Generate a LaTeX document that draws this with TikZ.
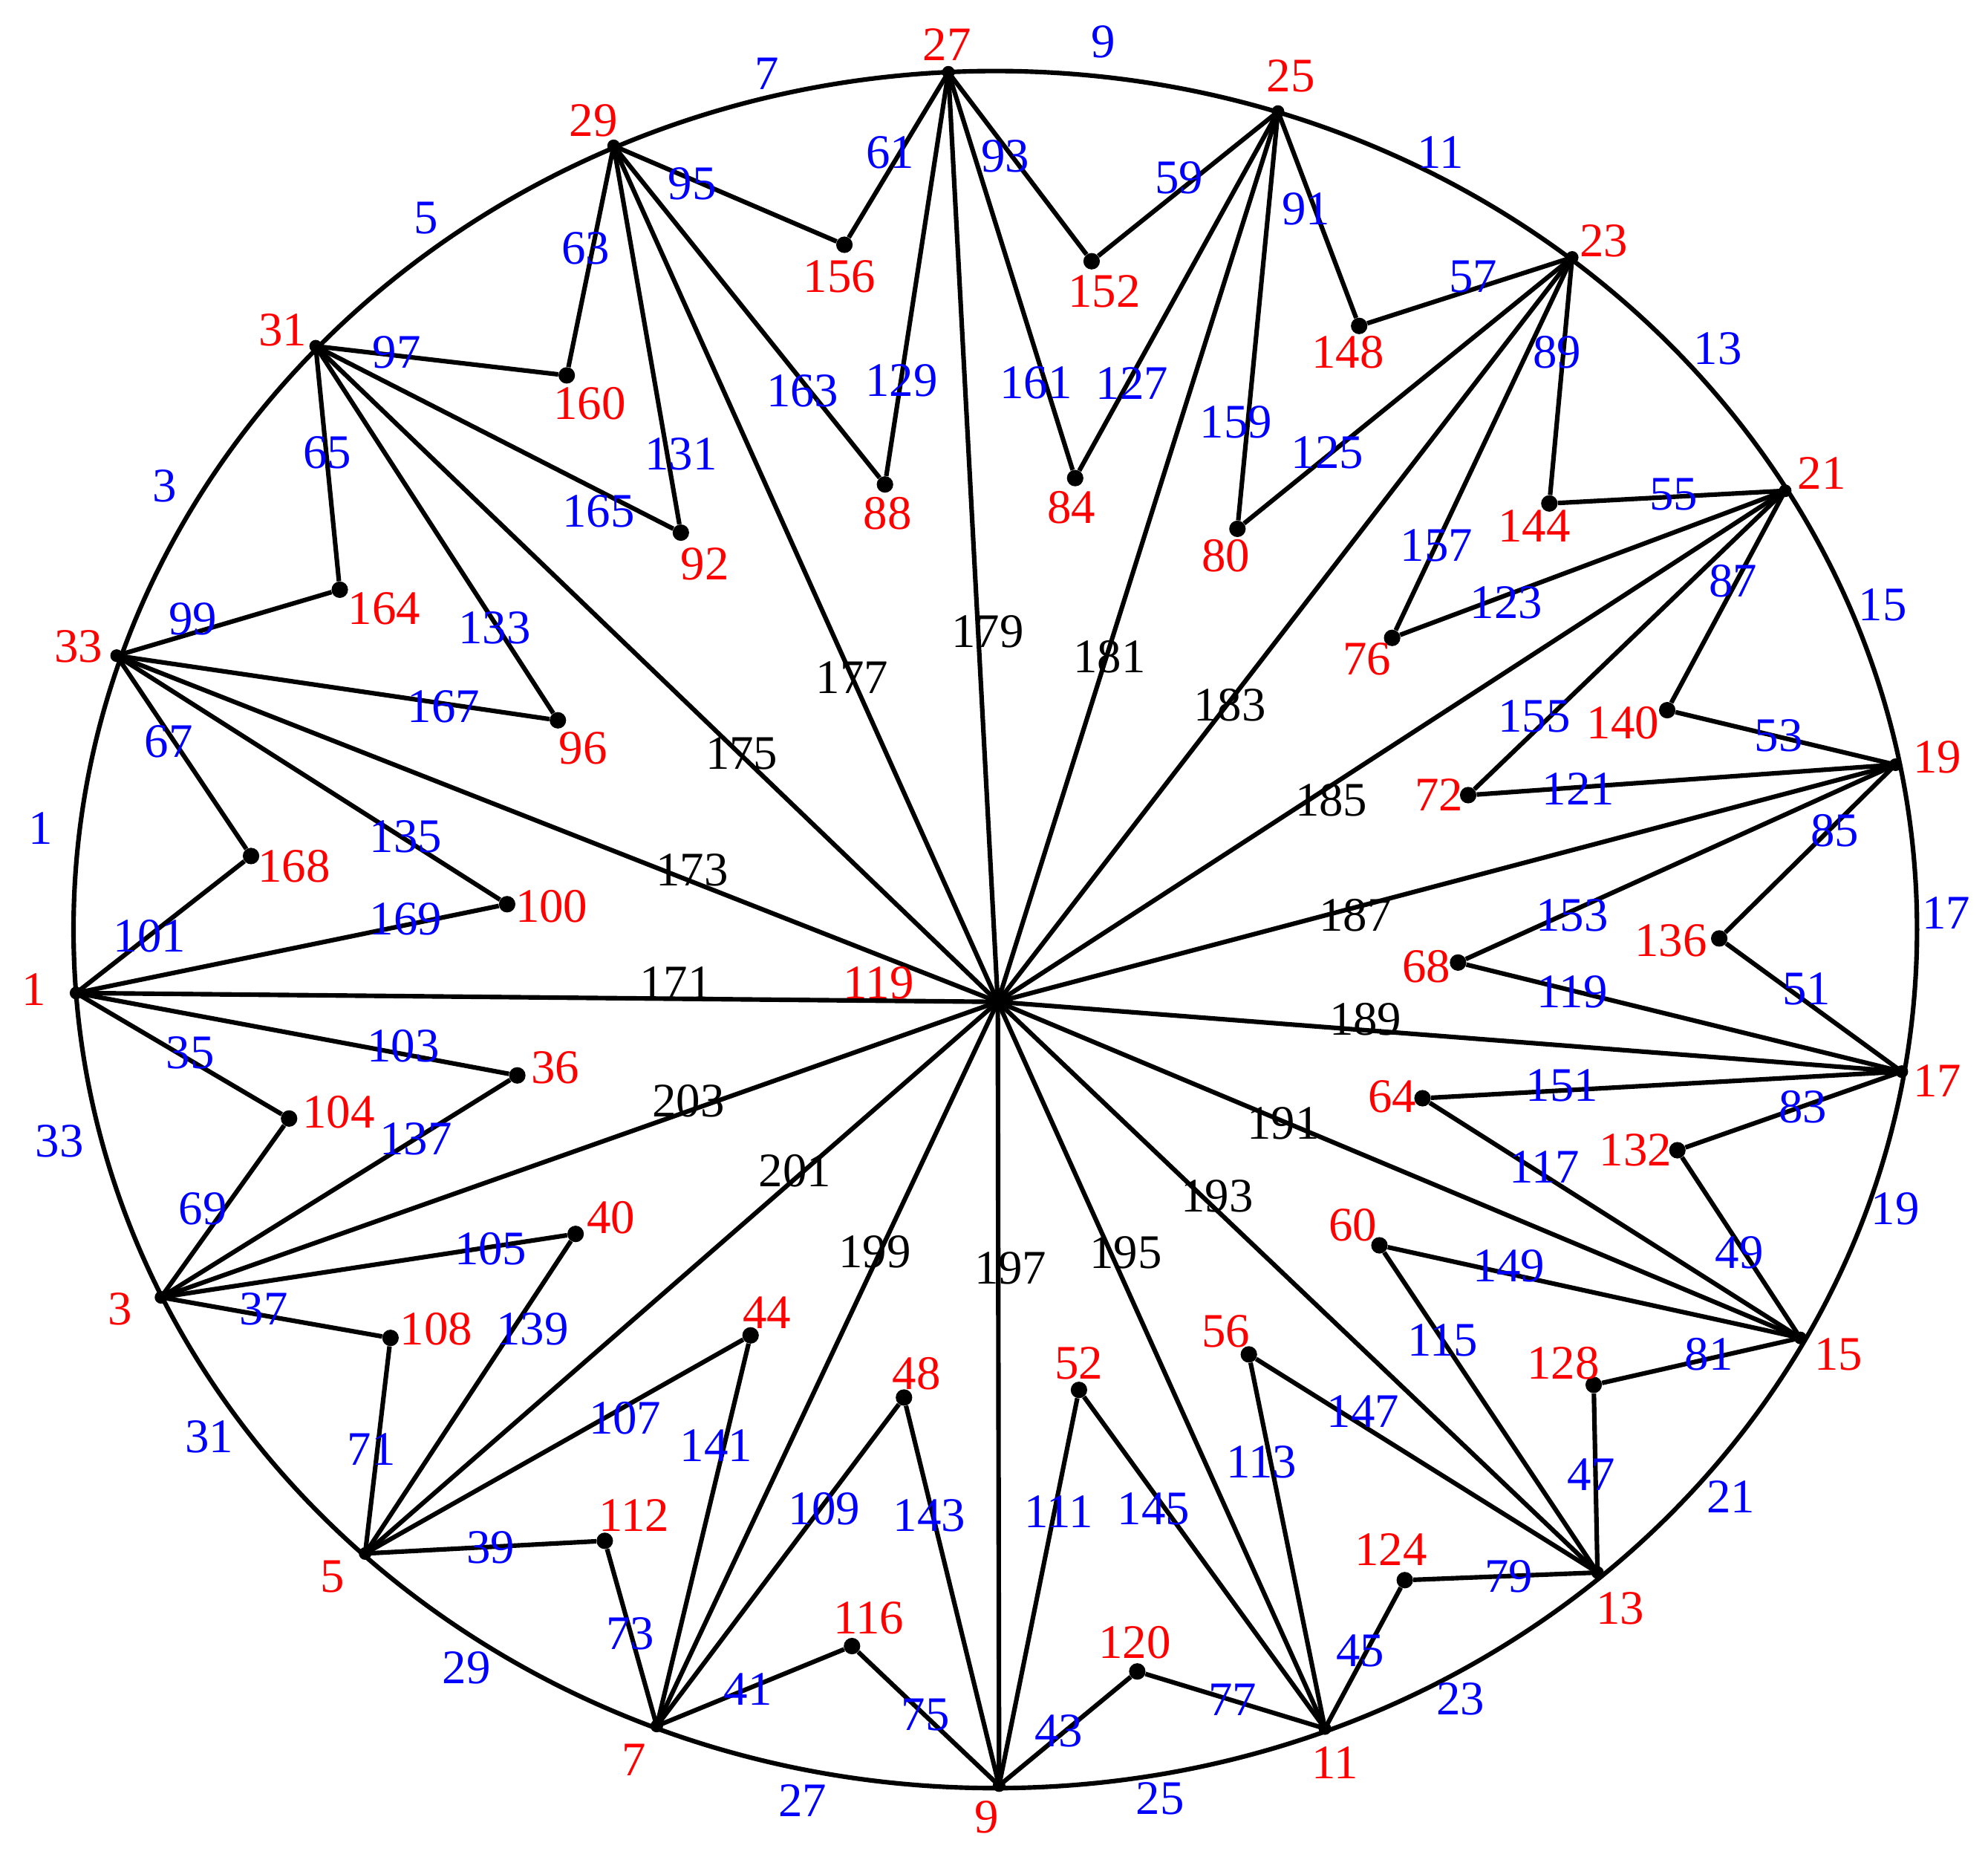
\documentclass[tikz,border=0pt]{standalone}
\usepackage{fontspec}
\setmainfont{Liberation Serif}
\begin{document}
\begin{tikzpicture}[x=1pt,y=-1pt,
  edge/.style={line width=3.6pt},
  dotn/.style={circle,fill=black,inner sep=0pt,minimum size=13pt},
  rl/.style={text=red,font=\fontsize{38}{38}\selectfont,inner sep=0pt},
  bl/.style={text=blue,font=\fontsize{38}{38}\selectfont,inner sep=0pt},
  kl/.style={text=black,font=\fontsize{38}{38}\selectfont,inner sep=0pt}]
\useasboundingbox (0,0) rectangle (1568,1464);
\draw[edge] (785,733) ellipse [x radius=727, y radius=677];
\coordinate (c) at (787,790);
\foreach \n/\x/\y in {1/60/783,3/127/1023,5/288/1225,7/518/1361,9/788/1408,11/1045/1363,13/1260/1240,15/1420/1055,17/1500/845,19/1495/603,21/1408/387,23/1240/203,25/1008/88,27/748/57,29/484/115,31/249/273,33/92/517}
  {\coordinate (v\n) at (\x,\y); \draw[edge] (c) -- (v\n);}
\foreach \n/\x/\y/\a/\b in {168/198/675/33/1,100/400/713/33/1,164/268/465/31/33,96/440/568/31/33,160/447/296/29/31,92/537/420/29/31,156/666/193/27/29,88/698/382/27/29,152/861/206/25/27,84/848/377/25/27,148/1072/257/23/25,80/976/417/23/25,144/1222/397/21/23,76/1098/503/21/23,140/1315/560/19/21,72/1158/627/19/21,136/1356/740/17/19,68/1150/759/17/19,132/1323/907/15/17,64/1122/866/15/17,128/1257/1092/13/15,60/1088/982/13/15,124/1108/1246/11/13,56/985/1068/11/13,120/897/1318/9/11,52/851/1096/9/11,116/672/1298/7/9,48/713/1102/7/9,112/477/1215/5/7,44/592/1053/5/7,108/308/1055/3/5,40/454/973/3/5,104/228/882/1/3,36/408/848/1/3}
  {\node[dotn] (i\n) at (\x,\y) {}; \draw[edge,line join=round] (v\a) -- (i\n) -- (v\b);}
\foreach \n in {1,3,...,33} {\fill (v\n) circle (5pt);}
\fill (c) circle (6pt);
% red labels
\foreach \t/\x/\y in {1/27/780,3/95/1032,5/262/1243,7/500/1388,9/778/1433,11/1053/1390,13/1278/1268,15/1450/1068,17/1528/852,19/1528/597,21/1437/373,23/1265/190,25/1018/60,27/747/35,29/468/95,31/223/260,33/62/510,168/232/683,100/435/715,164/303/480,96/460/590,160/465/318,92/556/445,156/662/218,88/700/405,152/871/230,84/845/400,148/1063/278,80/967/438,144/1210/415,76/1078/520,140/1280/570,72/1135/627,136/1318/742,68/1125/762,132/1290/907,64/1098/865,128/1233/1075,60/1067/966,124/1097/1222,56/967/1050,120/895/1295,52/851/1075,116/685/1276,48/723/1083,112/500/1195,44/605/1035,108/344/1048,40/482/960,104/267/877,36/438/842,119/693/775}
  {\node[rl] at (\x,\y) {\t};}
% black labels
\foreach \t/\x/\y in {171/533/775,173/546/686,175/585/594,177/672/534,179/779/498,181/875/518,183/970/556,185/1050/631,187/1069/722,189/1077/804,191/1012/886,193/960/943,195/888/988,197/797/1000,199/690/987,201/627/923,203/543/868}
  {\node[kl] at (\x,\y) {\t};}
% blue labels
\foreach \t/\x/\y in {1/32/653,3/130/383,5/336/172,7/605/58,9/870/33,11/1136/120,13/1355/275,15/1485/477,17/1535/720,19/1495/953,21/1365/1180,23/1152/1340,25/915/1418,27/633/1420,29/368/1315,31/165/1133,33/47/900,
67/133/585,101/118/738,135/320/660,169/320/725,65/258/357,99/152/488,133/390/495,167/350/557,63/462/196,97/313/278,131/537/358,165/472/403,61/702/120,95/546/145,129/711/300,163/633/308,59/930/140,93/793/123,127/893/302,161/817/302,57/1162/218,91/1030/165,125/1047/357,159/975/333,55/1320/390,89/1228/278,123/1188/475,157/1133/430,53/1403/580,87/1367/458,121/1245/622,155/1210/565,51/1425/780,85/1447/655,119/1240/782,153/1240/722,49/1372/988,83/1422/873,117/1218/920,151/1232/856,47/1255/1163,81/1348/1068,115/1138/1057,149/1190/998,45/1073/1302,79/1190/1243,113/995/1153,147/1075/1113,43/835/1365,77/972/1340,111/835/1192,145/910/1190,41/590/1332,75/730/1352,109/650/1190,143/733/1195,39/387/1220,73/497/1288,107/493/1118,141/565/1140,37/208/1032,71/293/1143,105/387/985,139/420/1048,35/150/830,69/160/953,103/318/825,137/328/898}
  {\node[bl] at (\x,\y) {\t};}
\end{tikzpicture}
\end{document}
